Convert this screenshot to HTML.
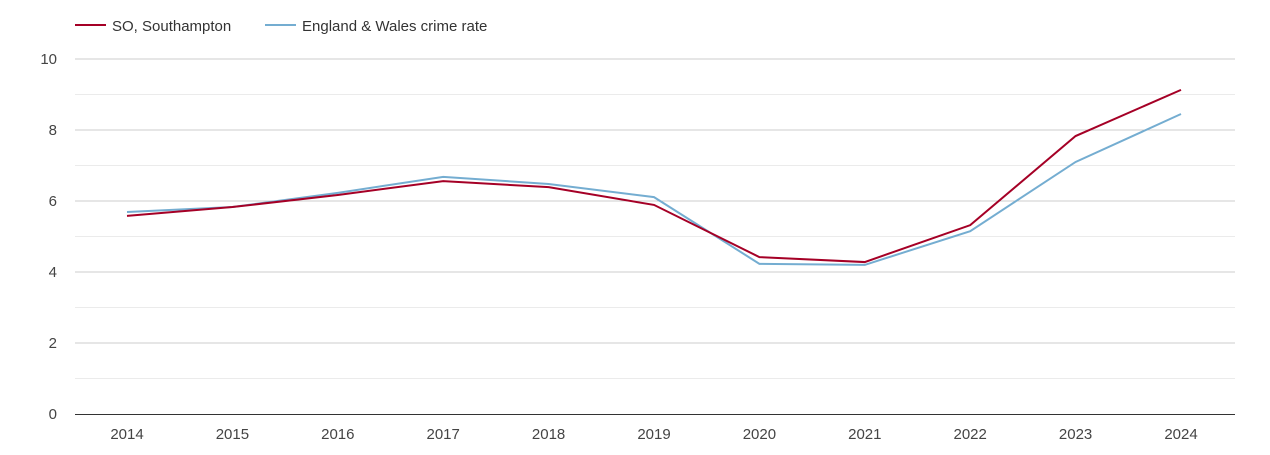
<!DOCTYPE html>
<html><head><meta charset="utf-8"><style>
body{margin:0;background:#fff;font-family:"Liberation Sans",sans-serif;}
svg text{font-family:"Liberation Sans",sans-serif;}
</style></head><body>
<svg id="chart" width="1270" height="450" xmlns="http://www.w3.org/2000/svg">
<g>
<line x1="75" y1="25" x2="106" y2="25" stroke="#a50026" stroke-width="2"/>
<text x="112" y="31" font-size="15" fill="#333">SO, Southampton</text>
<line x1="265" y1="25" x2="296" y2="25" stroke="#74add1" stroke-width="2"/>
<text x="302" y="31" font-size="15" fill="#333">England &amp; Wales crime rate</text>
</g>
<g id="grid"></g>
<g id="yticks"></g>
<g id="xticks"></g>
<g id="series"></g>
</svg>
<script>
const years=[2014,2015,2016,2017,2018,2019,2020,2021,2022,2023,2024];
const southampton=[5.58,5.83,6.17,6.56,6.39,5.89,4.42,4.28,5.32,7.83,9.13];
const englandWales=[5.69,5.83,6.23,6.68,6.48,6.11,4.23,4.2,5.15,7.1,8.45];
const yTickLabels=[0,2,4,6,8,10];
const NS="http://www.w3.org/2000/svg";
const x=i=>127+i*(1181-127)/(years.length-1);
const y=v=>414-v*35.5;
function mk(tag,attrs,parent){const e=document.createElementNS(NS,tag);for(const k in attrs)e.setAttribute(k,attrs[k]);parent.appendChild(e);return e;}
const grid=document.getElementById('grid');
for(let v=1;v<=10;v++){
 const l=mk('line',{x1:75,x2:1235,y1:y(v),y2:y(v),stroke:v%2?'#ebebeb':'#cccccc','stroke-width':1},grid);
 
 
}
const base=mk('line',{x1:75,x2:1235,y1:y(0)+0.5,y2:y(0)+0.5,stroke:'#333','stroke-width':1},grid);


const yt=document.getElementById('yticks');
yTickLabels.forEach(v=>{
 const t=mk('text',{x:57,y:y(v)+5,'text-anchor':'end','font-size':15,fill:'#444'},yt);
 t.textContent=v;
 
 
});
const xt=document.getElementById('xticks');
years.forEach((yr,i)=>{
 const t=mk('text',{x:x(i),y:439,'text-anchor':'middle','font-size':15,fill:'#444'},xt);
 t.textContent=yr;
 
 
});
const s=document.getElementById('series');
const p2=mk('polyline',{points:englandWales.map((v,i)=>x(i)+','+y(v)).join(' '),fill:'none',stroke:'#74add1','stroke-width':2},s);


const p1=mk('polyline',{points:southampton.map((v,i)=>x(i)+','+y(v)).join(' '),fill:'none',stroke:'#a50026','stroke-width':2},s);


</script>
</body></html>
